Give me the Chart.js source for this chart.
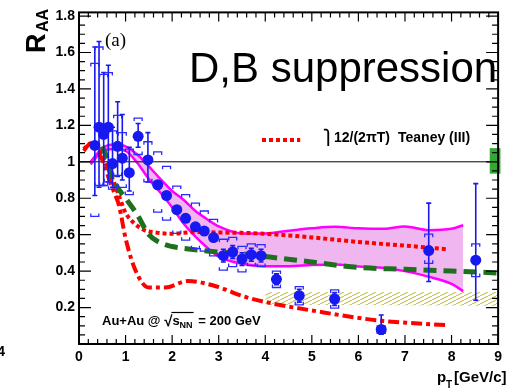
<!DOCTYPE html>
<html>
<head>
<meta charset="utf-8">
<script src="https://cdn.jsdelivr.net/npm/chart.js@4.4.0/dist/chart.umd.min.js"></script>
<style>
  html, body { margin: 0; padding: 0; background: #fff; }
  canvas { display: block; }
</style>
</head>
<body>
<canvas id="raa" width="507" height="388"></canvas>
<script>
// measured points (blue circles)
const pt = [0.34, 0.43, 0.53, 0.63, 0.72, 0.83, 0.93, 1.08, 1.27, 1.48, 1.69, 1.88, 2.10, 2.29, 2.50, 2.69, 2.89, 3.10, 3.30, 3.50, 3.70, 3.91, 4.24, 4.73, 5.49, 6.49, 7.51, 8.52]
const raa = [1.09, 1.19, 1.15, 1.19, 0.99, 1.085, 1.02, 0.94, 1.14, 1.01, 0.874, 0.815, 0.737, 0.69, 0.643, 0.62, 0.584, 0.485, 0.505, 0.466, 0.49, 0.485, 0.355, 0.265, 0.247, 0.079, 0.513, 0.46]
const statUp = [0.54, 0.47, 0.34, 0.34, 0.2, 0.245, 0.24, 0.14, 0.07, 0.15, 0.02, 0.02, 0.02, 0.02, 0.02, 0.02, 0.02, 0.035, 0.035, 0.035, 0.035, 0.035, 0.03, 0.035, 0.035, 0.08, 0.26, 0.42]
const statDown = [0.275, 0.33, 0.28, 0.3, 0.13, 0.165, 0.12, 0.1, 0.06, 0.12, 0.02, 0.02, 0.02, 0.02, 0.02, 0.02, 0.02, 0.035, 0.035, 0.035, 0.035, 0.035, 0.03, 0.035, 0.035, 0.025, 0.17, 0.22]
const sysUp = [0.45, 0.44, 0.33, 0.3, 0.18, 0.17, 0.14, 0.13, 0.1, 0.1, 0.18, 0.16, 0.13, 0.13, 0.13, 0.11, 0.1, 0.09, 0.08, 0.07, 0.06, 0.06, 0.045, 0.05, 0.05, 0.02, 0.09, 0.09]
const sysDown = [0.39, 0.32, 0.28, 0.3, 0.14, 0.16, 0.16, 0.12, 0.1, 0.12, 0.15, 0.135, 0.13, 0.12, 0.12, 0.11, 0.1, 0.08, 0.08, 0.07, 0.06, 0.06, 0.045, 0.05, 0.05, 0.02, 0.07, 0.09]

// magenta band
const bandX = [0.25, 0.5, 0.75, 1.0, 1.25, 1.5, 1.75, 2.0, 2.25, 2.5, 2.75, 3.0, 3.5, 4.0, 4.5, 5.0, 5.5, 6.0, 6.5, 7.0, 7.5, 8.0, 8.25]
const bandHi = [1.0, 1.075, 1.095, 1.085, 1.04, 0.975, 0.905, 0.84, 0.79, 0.73, 0.685, 0.645, 0.607, 0.607, 0.622, 0.635, 0.643, 0.635, 0.632, 0.645, 0.625, 0.632, 0.652]
const bandLo = [0.985, 1.058, 1.07, 1.06, 0.995, 0.905, 0.83, 0.75, 0.66, 0.59, 0.53, 0.48, 0.44, 0.427, 0.427, 0.433, 0.436, 0.425, 0.418, 0.4, 0.37, 0.33, 0.29]

// Teaney 12/(2piT), red dotted
const dotX = [0.1, 0.25, 0.4, 0.55, 0.7, 0.85, 1.0, 1.2, 1.4, 1.7, 2.0, 2.5, 3.0, 3.5, 4.0, 5.0, 6.0, 7.0, 7.9]
const dotY = [1.07, 1.1, 1.08, 1.0, 0.92, 0.82, 0.72, 0.66, 0.625, 0.61, 0.605, 0.615, 0.612, 0.61, 0.605, 0.585, 0.56, 0.54, 0.52]

// red dash-dot
const dashDotX = [0.1, 0.25, 0.4, 0.55, 0.65, 0.76, 0.86, 1.0, 1.22, 1.5, 1.85, 2.34, 2.9, 3.6, 4.2, 5.0, 6.4, 7.9]
const dashDotY = [1.06, 1.1, 1.06, 0.98, 0.9, 0.83, 0.76, 0.58, 0.4, 0.31, 0.31, 0.346, 0.32, 0.256, 0.22, 0.184, 0.13, 0.103]

// green dashed
const greenX = [0.5, 0.6, 0.7, 0.8, 1.0, 1.25, 1.5, 1.75, 2.0, 2.5, 3.0, 3.5, 4.0, 5.0, 6.0, 7.0, 8.0, 9.0]
const greenY = [1.085, 1.02, 0.93, 0.87, 0.8, 0.71, 0.6, 0.555, 0.535, 0.517, 0.505, 0.495, 0.48, 0.45, 0.42, 0.41, 0.4, 0.39]

// yellow hatched band
const hatchX = [4.0, 9.0]
const hatchHi = [0.285, 0.285]
const hatchLo = [0.216, 0.21]

const legendX = [3.93, 4.75]
const legendY = [1.12, 1.12]
const unityX = [0, 9]
const unityY = [1, 1]
const normX = [8.82, 9.05]
const normY = [0.935, 1.075]

const xTickVals = [0, 1, 2, 3, 4, 5, 6, 7, 8, 9]
const xTickLabels = ['0', '1', '2', '3', '4', '5', '6', '7', '8', '9']
const yTickVals = [0.2, 0.4, 0.6, 0.8, 1.0, 1.2, 1.4, 1.6, 1.8]
const yTickLabels = ['0.2', '0.4', '0.6', '0.8', '1', '1.2', '1.4', '1.6', '1.8']

const BLUE = '#1818f0'
const BOLD = '"Liberation Sans", Arial, sans-serif'
const NARROW = '"Liberation Sans Narrow", "Liberation Sans", sans-serif'

const pts = (xs, ys) => xs.map((x, i) => ({x: x, y: ys[i]}))

const makeHatch = () => {
  const c = document.createElement('canvas')
  c.width = 8
  c.height = 4
  const g = c.getContext('2d')
  g.strokeStyle = '#bdb640'
  g.lineWidth = 1
  g.beginPath()
  g.moveTo(0, 4); g.lineTo(8, 0)
  g.moveTo(-8, 4); g.lineTo(0, 0)
  g.moveTo(8, 4); g.lineTo(16, 0)
  g.stroke()
  return g.createPattern(c, 'repeat')
}

const line = (data, color, width, dash, order) => ({
  data: data, borderColor: color, borderWidth: width, borderDash: dash,
  pointRadius: 0, fill: false, showLine: true, order: order,
  cubicInterpolationMode: 'monotone', borderCapStyle: 'butt'
})

const errorBars = {
  id: 'errorBars',
  beforeDatasetDraw(chart, args) {
    if (args.index !== 0) return
    const {ctx, scales: {x, y}} = chart
    ctx.save()
    ctx.strokeStyle = BLUE
    pt.forEach((v, i) => {
      const px = x.getPixelForValue(v)
      const top = y.getPixelForValue(raa[i] + statUp[i])
      const bot = y.getPixelForValue(raa[i] - statDown[i])
      ctx.lineWidth = 1.6
      ctx.beginPath()
      ctx.moveTo(px, top); ctx.lineTo(px, bot)
      ctx.moveTo(px - 2.5, top); ctx.lineTo(px + 2.5, top)
      ctx.moveTo(px - 2.5, bot); ctx.lineTo(px + 2.5, bot)
      ctx.stroke()
      // systematic brackets
      const sTop = y.getPixelForValue(raa[i] + sysUp[i])
      const sBot = y.getPixelForValue(raa[i] - sysDown[i])
      ctx.lineWidth = 1.3
      ctx.strokeStyle = '#2a2aff'
      ctx.beginPath()
      ctx.moveTo(px - 4, sTop + 3); ctx.lineTo(px - 4, sTop); ctx.lineTo(px + 4, sTop); ctx.lineTo(px + 4, sTop + 3)
      ctx.moveTo(px - 4, sBot - 3); ctx.lineTo(px - 4, sBot); ctx.lineTo(px + 4, sBot); ctx.lineTo(px + 4, sBot - 3)
      ctx.stroke()
      ctx.strokeStyle = BLUE
    })
    ctx.restore()
  }
}

const decor = {
  id: 'decor',
  afterDraw(chart) {
    const {ctx, chartArea: a, scales: {x, y}} = chart
    ctx.save()
    // normalisation box
    ctx.fillStyle = '#34a834'
    const bx0 = x.getPixelForValue(normX[0]), bx1 = x.getPixelForValue(normX[1])
    const by0 = y.getPixelForValue(normY[1]), by1 = y.getPixelForValue(normY[0])
    ctx.fillRect(bx0, by0, bx1 - bx0, by1 - by0)

    // frame
    ctx.strokeStyle = '#000'
    ctx.lineWidth = 2
    ctx.strokeRect(a.left, a.top, a.right - a.left, a.bottom - a.top)

    // ticks, pointing inward
    ctx.lineWidth = 1.2
    ctx.beginPath()
    for (let k = 0; k <= 45; k++) {
      const v = k * 0.2
      const px = x.getPixelForValue(v)
      const len = k % 5 === 0 ? 9 : 5
      ctx.moveTo(px, a.bottom); ctx.lineTo(px, a.bottom - len)
      ctx.moveTo(px, a.top); ctx.lineTo(px, a.top + len)
    }
    for (let k = 0; k <= 36; k++) {
      const v = k * 0.05
      const py = y.getPixelForValue(v)
      const len = k % 4 === 0 ? 12 : 6
      ctx.moveTo(a.left, py); ctx.lineTo(a.left + len, py)
      ctx.moveTo(a.right, py); ctx.lineTo(a.right - len, py)
    }
    ctx.stroke()

    ctx.fillStyle = '#000'
    ctx.textAlign = 'left'
    ctx.textBaseline = 'alphabetic'

    ctx.font = '42px ' + BOLD
    ctx.fillText('D,B suppression', 189, 82)

    ctx.font = '19px "Liberation Serif", serif'
    ctx.fillText('(a)', 105, 46)

    // legend
    ctx.font = 'bold 14px ' + BOLD
    ctx.fillText('\u23AB', 323, 142)
    ctx.fillText('12/(2\u03C0T)', 334, 142)
    ctx.fillText('Teaney (III)', 398, 142)

    // collision system
    ctx.font = 'bold 13px ' + NARROW
    let tx = 102
    ctx.fillText('Au+Au @ ', tx, 325)
    tx += ctx.measureText('Au+Au @ ').width
    ctx.font = 'bold 15px ' + BOLD
    ctx.fillText('\u221A', tx, 326)
    tx += ctx.measureText('\u221A').width
    ctx.font = 'bold 13px ' + NARROW
    const sw = ctx.measureText('s').width
    ctx.fillText('s', tx, 325)
    ctx.font = 'bold 9px ' + NARROW
    ctx.fillText('NN', tx + sw, 328)
    const nw = ctx.measureText('NN').width
    ctx.lineWidth = 1.2
    ctx.beginPath()
    ctx.moveTo(tx - 1, 312.5); ctx.lineTo(tx + sw + nw + 1, 312.5)
    ctx.stroke()
    tx += sw + nw + 2
    ctx.font = 'bold 13px ' + NARROW
    ctx.fillText(' = 200 GeV', tx, 325)

    // x title
    ctx.font = 'bold 15px ' + BOLD
    ctx.fillText('p', 437, 382)
    ctx.font = 'bold 10px ' + BOLD
    ctx.fillText('T', 446, 388)
    ctx.font = 'bold 15px ' + BOLD
    ctx.fillText('[GeV/c]', 454, 382)

    // y title
    ctx.save()
    ctx.translate(45, 53)
    ctx.rotate(-Math.PI / 2)
    ctx.font = 'bold 27px ' + BOLD
    ctx.fillText('R', 0, 0)
    ctx.font = 'bold 16px ' + BOLD
    ctx.fillText('AA', 21, 3)
    ctx.restore()

    // edge of the neighbouring panel label
    ctx.font = 'bold 14px ' + NARROW
    ctx.textAlign = 'right'
    ctx.fillText('4', 5, 356)
    ctx.restore()
  }
}

new Chart(document.getElementById('raa'), {
  type: 'scatter',
  data: {
    datasets: [
      {
        data: pts(pt, raa), pointRadius: 5.5, pointBackgroundColor: BLUE,
        pointBorderColor: BLUE, pointBorderWidth: 0, showLine: false, order: 0
      },
      line(pts(greenX, greenY), '#1e701e', 5, [13, 7], 1),
      line(pts(dotX, dotY), '#ff0000', 4, [4, 3], 2),
      line(pts(dashDotX, dashDotY), '#ff0000', 4, [11, 4, 4, 4], 3),
      line(pts(legendX, legendY), '#ff0000', 4, [4, 3], 2),
      line(pts(unityX, unityY), '#000', 1, [], 4),
      line(pts(bandX, bandLo), '#ff00ff', 2.5, [], 5),
      Object.assign(line(pts(bandX, bandHi), '#ff00ff', 2.5, [], 6), {fill: '-1', backgroundColor: '#f0b6f0'}),
      line(pts(hatchX, hatchLo), 'rgba(0,0,0,0)', 0, [], 7),
      Object.assign(line(pts(hatchX, hatchHi), 'rgba(0,0,0,0)', 0, [], 8), {fill: '-1', backgroundColor: makeHatch()})
    ]
  },
  options: {
    responsive: false,
    animation: false,
    devicePixelRatio: 1,
    layout: {padding: {top: 7, right: 1, left: 0, bottom: 0}},
    plugins: {legend: {display: false}, tooltip: {enabled: false}},
    scales: {
      x: {
        type: 'linear', min: 0, max: 9,
        afterFit: s => { s.height = 44 },
        afterBuildTicks: s => { s.ticks = xTickVals.map(v => ({value: v})) },
        grid: {display: false, drawTicks: false},
        border: {display: false},
        ticks: {
          padding: 5, color: '#000', maxRotation: 0, autoSkip: false,
          font: {family: BOLD, size: 14, weight: 'bold'},
          callback: (v) => xTickLabels[xTickVals.indexOf(v)]
        }
      },
      y: {
        type: 'linear', min: 0, max: 1.82,
        afterFit: s => { s.width = 79 },
        afterBuildTicks: s => { s.ticks = yTickVals.map(v => ({value: v})) },
        grid: {display: false, drawTicks: false},
        border: {display: false},
        ticks: {
          padding: 4, color: '#000', autoSkip: false,
          font: {family: NARROW, size: 14, weight: 'bold'},
          callback: (v) => yTickLabels[yTickVals.indexOf(v)]
        }
      }
    }
  },
  plugins: [errorBars, decor]
})
</script>
</body>
</html>
